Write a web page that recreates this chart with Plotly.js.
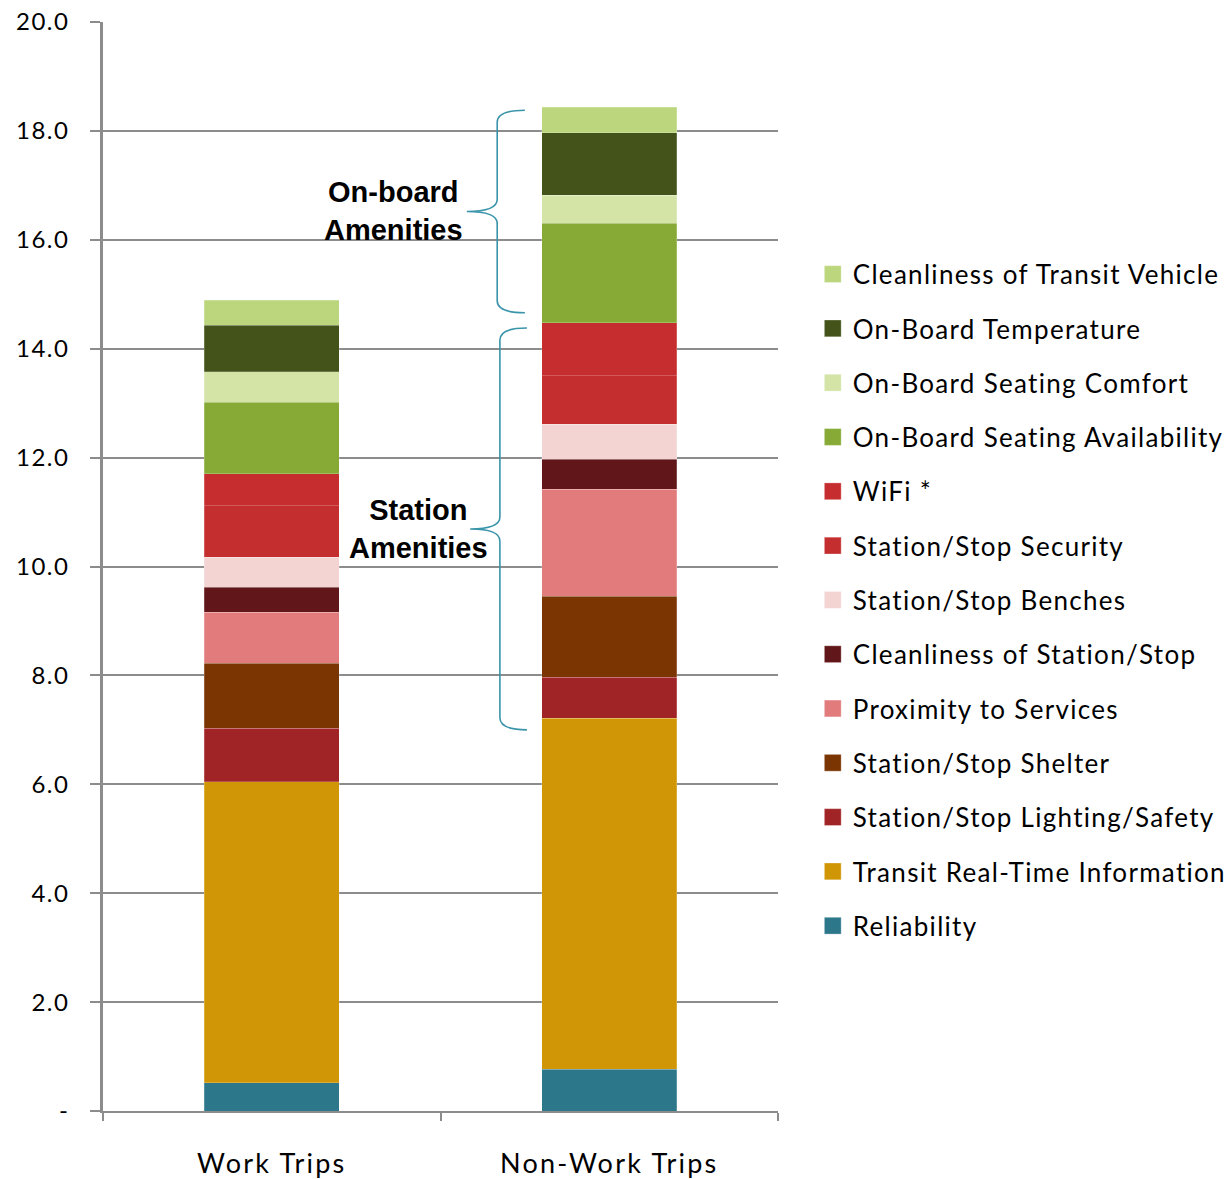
<!DOCTYPE html>
<html>
<head>
<meta charset="utf-8">
<script src="https://cdn.plot.ly/plotly-3.0.1.min.js"></script>
<style>
html,body{margin:0;padding:0;background:#fff;}
#chart{width:1232px;height:1179px;}
.legendtext{letter-spacing:1.3px;}
.xtick text{letter-spacing:2.2px;}
.ytick text{letter-spacing:1.5px;}
</style>
</head>
<body>
<div id="chart"></div>
<script>
// ---- Data ----
const categories = ['Work Trips', 'Non-Work Trips'];
const reliability         = [0.52, 0.77];
const realTimeInfo        = [5.53, 6.44];
const lightingSafety      = [0.98, 0.76];
const shelter             = [1.19, 1.48];
const proximity           = [0.94, 1.97];
const stationCleanliness  = [0.46, 0.55];
const benches             = [0.55, 0.64];
const security            = [0.95, 0.89];
const wifi                = [0.58, 0.98];
const seatingAvailability = [1.32, 1.82];
const seatingComfort      = [0.56, 0.52];
const temperature         = [0.85, 1.15];
const vehicleCleanliness  = [0.46, 0.46];

const seriesNames = [
  'Reliability', 'Transit Real-Time Information', 'Station/Stop Lighting/Safety',
  'Station/Stop Shelter', 'Proximity to Services', 'Cleanliness of Station/Stop',
  'Station/Stop Benches', 'Station/Stop Security', 'WiFi *',
  'On-Board Seating Availability', 'On-Board Seating Comfort', 'On-Board Temperature',
  'Cleanliness of Transit Vehicle'
];
const seriesValues = [
  reliability, realTimeInfo, lightingSafety, shelter, proximity, stationCleanliness,
  benches, security, wifi, seatingAvailability, seatingComfort, temperature, vehicleCleanliness
];
const seriesColors = [
  '#2c778a', '#d09606', '#a02326', '#7b3503', '#e27b7b', '#611719',
  '#f4d3d3', '#c42e2f', '#c62d2e', '#86aa35', '#d3e4a6', '#43531a', '#bbd67c'
];

const yTickVals = [0, 2, 4, 6, 8, 10, 12, 14, 16, 18, 20];
const yTickText = ['-', '2.0', '4.0', '6.0', '8.0', '10.0', '12.0', '14.0', '16.0', '18.0', '20.0'];

// ---- Traces ----
const traces = seriesNames.map((name, i) => ({
  type: 'bar',
  name: name,
  x: categories,
  y: seriesValues[i],
  legendgroup: 'g' + i,
  legendrank: 1000 - i,
  marker: { color: seriesColors[i], line: { width: 0.6, color: 'rgba(255,255,255,0.35)' } },
  hoverinfo: 'x+y+name'
}));

// ---- Bracket positions derived from the Non-Work stack ----
const nw = 1;
const sumUpTo = (k) => seriesValues.slice(0, k).reduce((s, arr) => s + arr[nw], 0);
const stationBottom = sumUpTo(2);   // after Reliability + Real-Time Info
const stationTop = sumUpTo(9);      // after WiFi
const total = sumUpTo(13);

function bracePath(xEnd, xV, xTip, y0, y1, r) {
  const ym = (y0 + y1) / 2;
  return `M${xEnd},${y1} Q${xV},${y1} ${xV},${y1 - r} L${xV},${ym + r} Q${xV},${ym} ${xTip},${ym} ` +
         `M${xTip},${ym} Q${xV},${ym} ${xV},${ym - r} L${xV},${y0 + r} Q${xV},${y0} ${xEnd},${y0}`;
}
const obY0 = stationTop + 0.18, obY1 = total - 0.05;
const stY0 = stationBottom - 0.21, stY1 = stationTop - 0.1;

const shapes = [
  { type: 'path', xref: 'paper', yref: 'y', path: bracePath(0.625, 0.584, 0.539, obY0, obY1, 0.22),
    line: { color: '#3a94aa', width: 1.6 } },
  { type: 'path', xref: 'paper', yref: 'y', path: bracePath(0.628, 0.588, 0.544, stY0, stY1, 0.22),
    line: { color: '#3a94aa', width: 1.6 } }
];

const annotations = [
  { xref: 'paper', yref: 'y', x: 0.43, y: (obY0 + obY1) / 2, text: '<b>On-board<br>Amenities</b>',
    showarrow: false, xanchor: 'center', yanchor: 'middle',
    font: { family: 'Liberation Sans, Arial, sans-serif', size: 29, color: '#000' } },
  { xref: 'paper', yref: 'y', x: 0.468, y: (stY0 + stY1) / 2, text: '<b>Station<br>Amenities</b>',
    showarrow: false, xanchor: 'center', yanchor: 'middle',
    font: { family: 'Liberation Sans, Arial, sans-serif', size: 29, color: '#000' } }
];

const layout = {
  width: 1232, height: 1179,
  margin: { l: 103, r: 454, t: 22, b: 68, autoexpand: false },
  paper_bgcolor: '#ffffff', plot_bgcolor: '#ffffff',
  barmode: 'stack',
  bargap: 0.6,
  font: { family: 'Lato, sans-serif', color: '#000' },
  showlegend: true,
  legend: {
    x: 1.0515, xanchor: 'left', y: 0.79, yanchor: 'top',
    traceorder: 'grouped', tracegroupgap: 17.5,
    font: { family: 'Lato, sans-serif', size: 26, color: '#000' },
    bgcolor: 'rgba(0,0,0,0)'
  },
  xaxis: {
    type: 'category', automargin: false,
    showline: true, linecolor: '#8c8c8c', linewidth: 2,
    ticks: 'outside', tickson: 'boundaries', ticklen: 8, tickcolor: '#8c8c8c', tickwidth: 2,
    ticklabelstandoff: 28,
    showgrid: false,
    tickfont: { family: 'Lato, sans-serif', size: 27, color: '#000' }
  },
  yaxis: {
    range: [0, 20], automargin: false,
    tickvals: yTickVals, ticktext: yTickText,
    showline: true, linecolor: '#8c8c8c', linewidth: 2.5,
    ticks: 'outside', ticklen: 10, tickcolor: '#8c8c8c', tickwidth: 2,
    ticklabelstandoff: 16,
    showgrid: true, gridcolor: '#8c8c8c', gridwidth: 1.6,
    zeroline: false,
    tickfont: { family: 'Lato, sans-serif', size: 24, color: '#000' }
  },
  shapes: shapes,
  annotations: annotations
};

Plotly.newPlot('chart', traces, layout, { displayModeBar: false }).then((gd) => {
  // enlarge the legend swatches to match the reference's square markers
  gd.querySelectorAll('.legendpoints path').forEach((p) => {
    const t = p.getAttribute('transform') || '';
    p.setAttribute('transform', (t + ' scale(1.4)').trim());
  });
  gd.querySelectorAll('.legend .scrollbox').forEach((s) => s.removeAttribute('clip-path'));
});
</script>
</body>
</html>
